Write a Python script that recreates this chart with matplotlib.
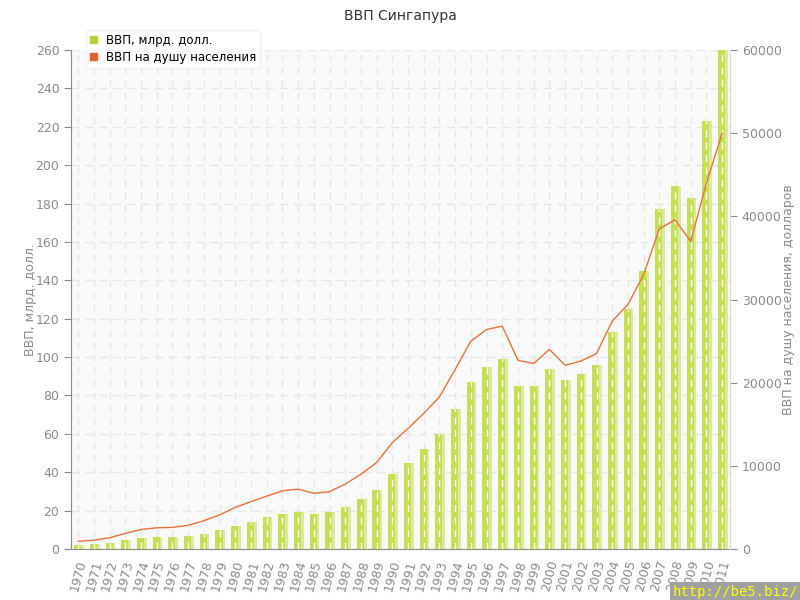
import numpy as np
import matplotlib.pyplot as plt

years = list(range(1970, 2012))
gdp = [2, 2.5, 3, 4.5, 5.5, 6, 6.5, 7, 8, 10,
       12, 14, 16.5, 18.5, 19.5, 18.5, 19.5, 22, 26, 31,
       39, 45, 52, 60, 73, 87, 95, 99, 85, 85,
       94, 88, 91, 96, 113, 125, 145, 177, 189, 183,
       223, 260]
gdp_pc = [925, 1070, 1350, 1880, 2350, 2550, 2600, 2850, 3400, 4100,
          5000, 5700, 6350, 7000, 7200, 6700, 6900, 7800, 9000, 10400,
          12800, 14500, 16300, 18300, 21600, 25000, 26400, 26800, 22700, 22300,
          24000, 22100, 22600, 23500, 27400, 29400, 33000, 38500, 39600, 37000,
          44000, 50000]

gray = '#8a8a8a'
fig = plt.figure(figsize=(8, 6), dpi=100)
ax = fig.add_axes([0.089, 0.085, 0.8235, 0.8315])
ax.set_facecolor('#f9f9f9')

x = np.array(years)
ax.bar(x + 0.08, gdp, width=0.55, color='#dcea9e', zorder=2)
ax.bar(x - 0.04, gdp, width=0.45, color='#c5df55', zorder=2)
# dashed year lines visible through the bars
ax.vlines(x, 0, gdp, colors='white', linestyles=(0, (5, 4)), linewidth=1, zorder=3)

ax.set_xlim(1969.55, 2011.5)
ax.set_ylim(0, 260)
ax.set_yticks(range(0, 261, 20))
ax.set_xticks(years)
ax.set_xticklabels([str(y) for y in years], rotation=75, fontsize=9, color=gray)
ax.tick_params(axis='y', colors=gray, labelsize=9, length=5)
ax.tick_params(axis='x', colors=gray, length=0, pad=7)
ax.grid(True, axis='y', linestyle=(0, (6, 4)), color='#e6e6e6', linewidth=1, zorder=1)
ax.grid(True, axis='x', linestyle=(0, (5, 4)), color='#e6e6e6', linewidth=1, zorder=1)
ax.set_axisbelow(True)
for s in ['top', 'right']:
    ax.spines[s].set_visible(False)
ax.spines['left'].set_color(gray)
ax.spines['bottom'].set_color(gray)
ax.set_ylabel('ВВП, млрд. долл.', color=gray, fontsize=9, labelpad=-1)

ax2 = ax.twinx()
ax2.plot(x, gdp_pc, color='#e8703a', linewidth=1, zorder=4)
ax2.set_ylim(0, 60000)
ax2.set_yticks(range(0, 60001, 10000))
ax2.tick_params(axis='y', colors=gray, labelsize=9, length=5)
for s in ['top', 'left', 'bottom']:
    ax2.spines[s].set_visible(False)
ax2.spines['right'].set_color('#d8d8d8')
ax2.set_ylabel('ВВП на душу населения, долларов', color=gray, fontsize=9, labelpad=0)

h1 = plt.Rectangle((0, 0), 1, 1, color='#b5d334')
h2 = plt.Rectangle((0, 0), 1, 1, color='#e8612c')
fig.legend([h1, h2], ['ВВП, млрд. долл.', 'ВВП на душу населения'],
           loc='upper left', bbox_to_anchor=(0.1, 0.96), fontsize=8.5,
           handlelength=0.55, handleheight=0.55, handletextpad=0.8,
           frameon=True, fancybox=True, shadow=False, labelspacing=0.3,
           borderpad=0.35, edgecolor='#eeeeee')

fig.suptitle('ВВП Сингапура', y=0.985, fontsize=10, color='#333333')
fig.text(0.998, 0.002, 'http://be5.biz/', ha='right', va='bottom', fontsize=10,
         color='#ffff00', family='monospace',
         bbox=dict(facecolor='#a0a0a0', edgecolor='none', pad=2))

plt.savefig('out.png')
